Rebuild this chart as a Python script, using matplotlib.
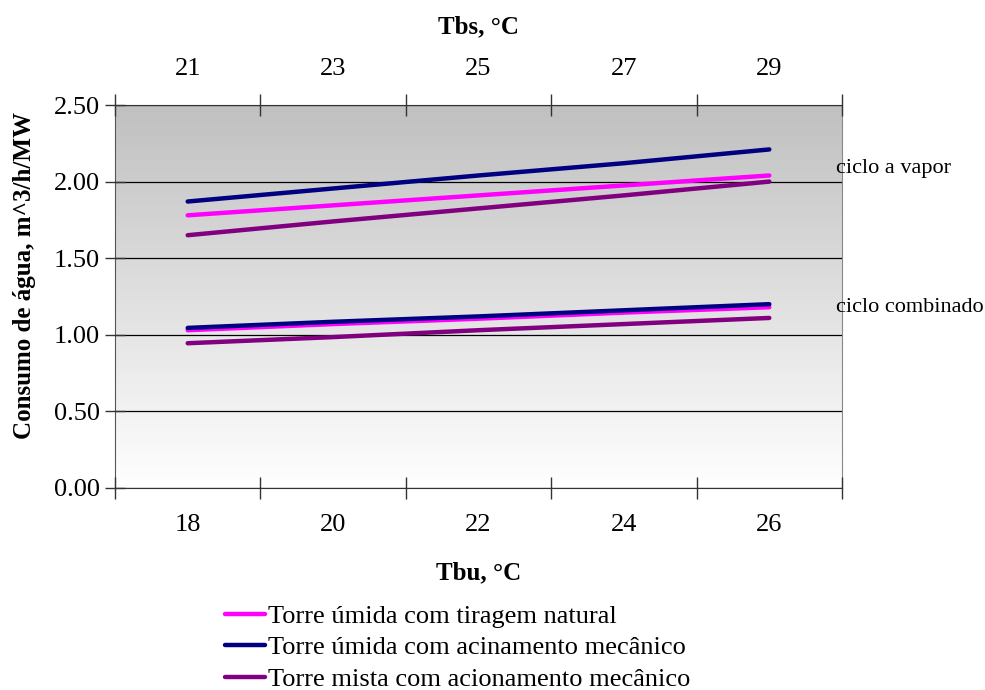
import numpy as np
import matplotlib
matplotlib.use("Agg")
import matplotlib.pyplot as plt

plt.rcParams["font.family"] = ["Liberation Serif", "DejaVu Serif"]

## data
tbu = [18, 20, 22, 24, 26]
tbs_labels = ["21", "23", "25", "27", "29"]

# ciclo a vapor
vap_natural = [1.78, 1.845, 1.91, 1.975, 2.04]
vap_mecanico = [1.87, 1.955, 2.04, 2.12, 2.21]
vap_mista = [1.65, 1.74, 1.825, 1.91, 2.00]
# ciclo combinado
comb_natural = [1.03, 1.07, 1.105, 1.145, 1.18]
comb_mecanico = [1.045, 1.085, 1.12, 1.16, 1.20]
comb_mista = [0.945, 0.985, 1.03, 1.07, 1.11]

names = ["Torre úmida com tiragem natural",
         "Torre úmida com acinamento mecânico",
         "Torre mista com acionamento mecânico"]
colors = ["#FF00FF", "#000080", "#800080"]

fig = plt.figure(figsize=(9.85, 6.9), dpi=100)
ax = fig.add_axes([115/985, 1-488/690, (842-115)/985, (488-105)/690])

# gradient background
grad = np.linspace(0, 1, 256).reshape(-1, 1)
cmap = matplotlib.colors.LinearSegmentedColormap.from_list("g", ["#ffffff", "#c0c0c0"])
ax.imshow(grad, aspect="auto", cmap=cmap, origin="lower",
          extent=[0, 1, 0, 1], transform=ax.transAxes, zorder=0)

handles = []
for vals_v, vals_c, c, nm in zip([vap_natural, vap_mecanico, vap_mista],
                                 [comb_natural, comb_mecanico, comb_mista],
                                 colors, names):
    l, = ax.plot(tbu, vals_v, color=c, lw=3.2, solid_capstyle="round", zorder=3, label=nm)
    ax.plot(tbu, vals_c, color=c, lw=3.2, solid_capstyle="round", zorder=3)
    handles.append(l)

ax.set_xlim(17, 27)
ax.set_ylim(0, 2.5)
ax.set_yticks(np.arange(0, 2.51, 0.5))
ax.set_yticklabels(["{:.2f}".format(v) for v in np.arange(0, 2.51, 0.5)], fontsize=19)
ax.yaxis.grid(True, color="black", lw=0.9, zorder=1)
ax.set_axisbelow(False)

# tick marks between categories, labels at categories
ax.set_xticks([17, 19, 21, 23, 25, 27])
ax.set_xticklabels([])
ax.set_xticks(tbu, minor=True)
ax.set_xticklabels([str(t) for t in tbu], minor=True, fontsize=19)
ax.tick_params(axis="x", which="major", direction="inout", length=16, width=1, color="#333333")
ax.tick_params(axis="x", which="minor", length=0, pad=19)
ax.tick_params(axis="y", direction="inout", length=14, width=1, color="#333333", pad=4)

for s in ["top", "right"]:
    ax.spines[s].set_visible(False)
ax.spines["left"].set_color("#555555")
ax.spines["bottom"].set_color("#333333")
ax.spines["right"].set_visible(True)
ax.spines["right"].set_color("#888888")

ax2 = ax.twiny()
ax2.set_xlim(17, 27)
ax2.set_xticks([17, 19, 21, 23, 25, 27])
ax2.set_xticklabels([])
ax2.set_xticks(tbu, minor=True)
ax2.set_xticklabels(tbs_labels, minor=True, fontsize=19)
ax2.tick_params(axis="x", which="major", direction="inout", length=16, width=1, color="#333333")
ax2.tick_params(axis="x", which="minor", length=0, pad=18)
for s in ["left", "right", "bottom"]:
    ax2.spines[s].set_visible(False)
ax2.spines["top"].set_color("#333333")

ax.set_xlabel("Tbu, °C", fontsize=18, fontweight="bold", labelpad=18)
ax2.set_xlabel("Tbs, °C", fontsize=18, fontweight="bold", labelpad=18)
ax.set_ylabel("Consumo de água, m^3/h/MW", fontsize=18, fontweight="bold")
ax.yaxis.set_label_coords(-0.108, 0.556)

fig.text(836/985, 1-168/690, "ciclo a vapor", fontsize=16, va="center")
fig.text(836/985, 1-307/690, "ciclo combinado", fontsize=16, va="center")

fig.legend(handles=handles, loc="upper left", bbox_to_anchor=(214/985, 1-594/690),
           frameon=False, fontsize=19, handlelength=1.55, handletextpad=0.1,
           labelspacing=0.3, borderaxespad=0)

plt.savefig("out.png", dpi=100)
plt.close(fig)
